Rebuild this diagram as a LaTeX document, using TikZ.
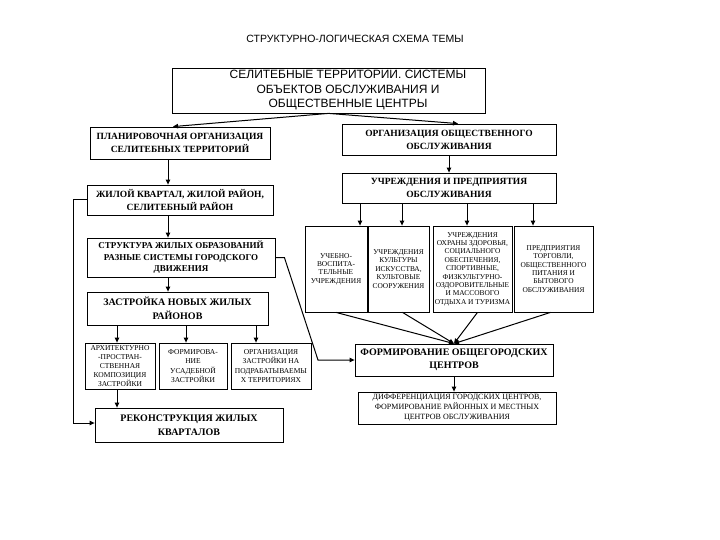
\documentclass[tikz,border=0pt]{standalone}
\usepackage{fontspec}
\setmainfont{Liberation Serif}
\newfontfamily\arialf{Liberation Sans}
\usetikzlibrary{arrows.meta}
\begin{document}
\begin{tikzpicture}[x=1pt,y=-1pt,
  bx/.style={draw, line width=0.8pt, inner sep=0.5pt, align=center},
  bigt/.style={font=\fontsize{9.5}{13}\selectfont\bfseries},
  midt/.style={font=\fontsize{10}{13.5}\selectfont\bfseries},
  smt/.style={font=\fontsize{7.4}{8.4}\selectfont},
  subt/.style={font=\fontsize{7.5}{9.2}\selectfont},
  arr/.style={line width=1pt, -{Triangle[length=5pt,width=4.5pt]}},
  ln/.style={line width=1pt}]
\useasboundingbox (0,0) rectangle (720,540);
\fill[white] (0,0) rectangle (720,540);

\node[font=\arialf\fontsize{10.5}{12}\selectfont] (title) at (355,39) {СТРУКТУРНО-ЛОГИЧЕСКАЯ СХЕМА ТЕМЫ};

\node[bx, minimum width=313pt, minimum height=45pt] (top) at (328.5,90.5) {};
\node[align=center, inner sep=0pt, font=\arialf\fontsize{12}{14.5}\selectfont] (toptxt) at (348,90.5)
  {СЕЛИТЕБНЫЕ ТЕРРИТОРИИ. СИСТЕМЫ\\ОБЪЕКТОВ ОБСЛУЖИВАНИЯ И\\ОБЩЕСТВЕННЫЕ ЦЕНТРЫ};

\node[bx, bigt, minimum width=180pt, minimum height=32pt] (plan) at (180,143)
  {ПЛАНИРОВОЧНАЯ ОРГАНИЗАЦИЯ\\СЕЛИТЕБНЫХ ТЕРРИТОРИЙ};
\node[bx, bigt, minimum width=214pt, minimum height=31pt] (org) at (449,139.5)
  {ОРГАНИЗАЦИЯ ОБЩЕСТВЕННОГО\\ОБСЛУЖИВАНИЯ};
\node[bx, bigt, minimum width=214pt, minimum height=30pt] (uchr) at (449,188)
  {УЧРЕЖДЕНИЯ И ПРЕДПРИЯТИЯ\\ОБСЛУЖИВАНИЯ};
\node[bx, bigt, minimum width=186pt, minimum height=30pt] (zhil) at (180,200)
  {ЖИЛОЙ КВАРТАЛ, ЖИЛОЙ РАЙОН,\\СЕЛИТЕБНЫЙ РАЙОН};
\node[bx, font=\fontsize{9}{11.5}\selectfont\bfseries, minimum width=188pt, minimum height=39pt] (strc) at (181,257.5)
  {СТРУКТУРА ЖИЛЫХ ОБРАЗОВАНИЙ\\РАЗНЫЕ СИСТЕМЫ ГОРОДСКОГО\\ДВИЖЕНИЯ};
\node[bx, midt, minimum width=181pt, minimum height=33pt] (zast) at (177.5,308.5)
  {ЗАСТРОЙКА НОВЫХ ЖИЛЫХ\\РАЙОНОВ};
\node[bx, subt, minimum width=70pt, minimum height=46pt] (arch) at (120,366)
  {АРХИТЕКТУРНО\\-ПРОСТРАН-\\СТВЕННАЯ\\КОМПОЗИЦИЯ\\ЗАСТРОЙКИ};
\node[bx, subt, minimum width=68pt, minimum height=46pt] (usad) at (193,366)
  {ФОРМИРОВА-\\НИЕ\\УСАДЕБНОЙ\\ЗАСТРОЙКИ};
\node[bx, subt, minimum width=80pt, minimum height=46pt] (podr) at (271,366)
  {ОРГАНИЗАЦИЯ\\ЗАСТРОЙКИ НА\\ПОДРАБАТЫВАЕМЫ\\Х ТЕРРИТОРИЯХ};
\node[bx, midt, minimum width=188pt, minimum height=34pt] (rek) at (189,425)
  {РЕКОНСТРУКЦИЯ ЖИЛЫХ\\КВАРТАЛОВ};

\node[bx, smt, minimum width=62pt, minimum height=86pt] (s1) at (336,269)
  {УЧЕБНО-\\ВОСПИТА-\\ТЕЛЬНЫЕ\\УЧРЕЖДЕНИЯ};
\node[bx, smt, minimum width=61pt, minimum height=86pt] (s2) at (398.5,269)
  {УЧРЕЖДЕНИЯ\\КУЛЬТУРЫ\\ИСКУССТВА,\\КУЛЬТОВЫЕ\\СООРУЖЕНИЯ};
\node[bx, smt, minimum width=79pt, minimum height=86pt] (s3) at (472.5,269)
  {УЧРЕЖДЕНИЯ\\ОХРАНЫ ЗДОРОВЬЯ,\\СОЦИАЛЬНОГО\\ОБЕСПЕЧЕНИЯ,\\СПОРТИВНЫЕ,\\ФИЗКУЛЬТУРНО-\\ОЗДОРОВИТЕЛЬНЫЕ\\И МАССОВОГО\\ОТДЫХА И ТУРИЗМА};
\node[bx, smt, minimum width=79pt, minimum height=86pt] (s4) at (553.5,269)
  {ПРЕДПРИЯТИЯ\\ТОРГОВЛИ,\\ОБЩЕСТВЕННОГО\\ПИТАНИЯ И\\БЫТОВОГО\\ОБСЛУЖИВАНИЯ};

\node[bx, midt, minimum width=198pt, minimum height=32pt] (form) at (454,360)
  {ФОРМИРОВАНИЕ ОБЩЕГОРОДСКИХ\\ЦЕНТРОВ};
\node[bx, font=\fontsize{8}{9.8}\selectfont, minimum width=198pt, minimum height=32pt] (diff) at (457,408)
  {ДИФФЕРЕНЦИАЦИЯ ГОРОДСКИХ ЦЕНТРОВ,\\ФОРМИРОВАНИЕ РАЙОННЫХ И МЕСТНЫХ\\ЦЕНТРОВ ОБСЛУЖИВАНИЯ};

% helper coordinates
\coordinate (cx) at (168,0);
\coordinate (ax) at (117,0);
\coordinate (ux) at (186,0);
\coordinate (px) at (256,0);
\coordinate (a1) at (360,0);
\coordinate (a2) at (402,0);
\coordinate (a3) at (467,0);
\coordinate (a4) at (533,0);
\coordinate (bend) at (318,360);

% connectors
\draw[arr] (top.south) -- ([xshift=-7pt]plan.north);
\draw[arr] (top.south) -- ([xshift=9pt]org.north);
\draw[arr] (plan.south -| cx) -- (zhil.north -| cx);
\draw[arr] (zhil.south -| cx) -- (strc.north -| cx);
\draw[arr] (strc.south -| cx) -- (zast.north -| cx);
\draw[arr] (zast.south -| ax) -- (arch.north -| ax);
\draw[arr] (zast.south -| ux) -- (usad.north -| ux);
\draw[arr] (zast.south -| px) -- (podr.north -| px);
\draw[arr] (arch.south -| ax) -- (rek.north -| ax);
\draw[arr] (zhil.west) -- ++(-13,0) |- ([yshift=2pt]rek.west);
\draw[arr] (strc.east) -- ++(9,0) -- (bend) -- (form.west);
\draw[arr] (org.south) -- (uchr.north);
\draw[arr] (uchr.south -| a1) -- (s1.north -| a1);
\draw[arr] (uchr.south -| a2) -- (s2.north -| a2);
\draw[arr] (uchr.south -| a3) -- (s3.north -| a3);
\draw[arr] (uchr.south -| a4) -- (s4.north -| a4);
\draw[arr] (s1.south) -- (form.north);
\draw[arr] ([xshift=4pt]s2.south) -- (form.north);
\draw[arr] ([xshift=5pt]s3.south) -- (form.north);
\draw[arr] ([xshift=-3pt]s4.south) -- (form.north);
\draw[arr] (form.south) -- (diff.north -| form.south);
\end{tikzpicture}
\end{document}
